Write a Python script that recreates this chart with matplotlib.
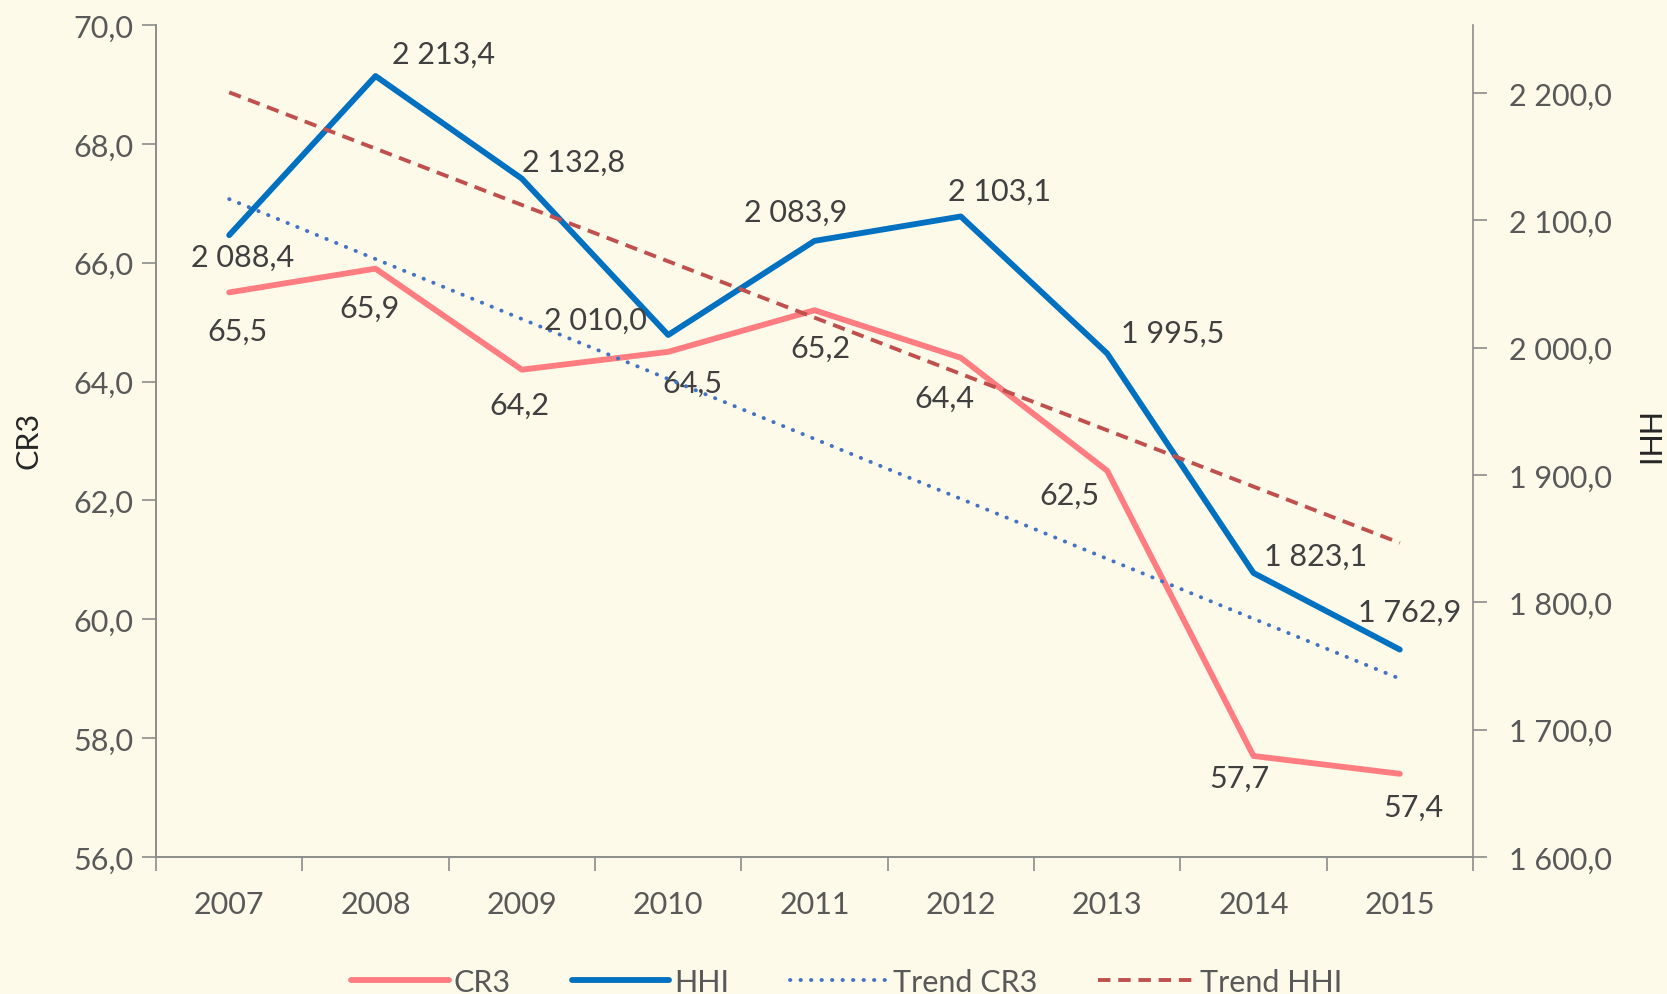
import matplotlib.pyplot as plt
from matplotlib.lines import Line2D

# data
years = ['2007', '2008', '2009', '2010', '2011', '2012', '2013', '2014', '2015']
cr3 = [65.5, 65.9, 64.2, 64.5, 65.2, 64.4, 62.5, 57.7, 57.4]
hhi = [2088.4, 2213.4, 2132.8, 2010.0, 2083.9, 2103.1, 1995.5, 1823.1, 1762.9]
# linear trend lines, start (2007) and end (2015) values
trend_cr3 = [67.07, 59.0]
trend_hhi = [2200.6, 1846.7]

# label offsets in pixels (dx, dy)
cr3_offsets = [(8, -38), (-6, -39), (-2, -35), (24, -31), (6, -38),
               (-16, -40), (-38, -24), (-14, -22), (14, -33)]
hhi_offsets = [(13, -22), (68, 22), (52, 17), (-73, 15), (-19, 29),
               (39, 26), (66, 21), (62, 17), (10, 38)]

BG = '#fefaea'
TXT = '#595959'
AX = '#8c8c8c'
FS = 22
DOT = (0, (0.1, 2.6))
DASH = (0, (3.2, 2.0))
plt.rcParams['font.family'] = ['Lato', 'DejaVu Sans']


def fmt(v):
    # Excel style: space as thousands separator, comma as decimal mark
    s = '{:,.1f}'.format(v)
    return s.replace(',', ' ').replace('.', ',')


def main():
    fig = plt.figure(figsize=(16.67, 9.95), dpi=100, facecolor=BG)
    ax = fig.add_axes([0.0936, 0.1377, 0.79, 0.8362])
    ax.set_facecolor(BG)
    ax2 = ax.twinx()

    x = list(range(len(years)))
    ends = [x[0], x[-1]]

    ax.plot(x, cr3, color='#ff7c80', lw=4.2, solid_capstyle='round', zorder=2)
    ax2.plot(x, hhi, color='#0070c0', lw=4.2, solid_capstyle='round', zorder=2)
    ax.plot(ends, trend_cr3, color='#4472c4', lw=2.8, ls=DOT,
            dash_capstyle='round', zorder=4)
    ax2.plot(ends, trend_hhi, color='#c0504d', lw=2.8, ls=DASH, zorder=4)

    for i, v in enumerate(cr3):
        ax.annotate(fmt(v), (x[i], v), xytext=cr3_offsets[i], textcoords='offset pixels',
                    ha='center', va='center', fontsize=FS, color='#404040', zorder=3)
    for i, v in enumerate(hhi):
        ax2.annotate(fmt(v), (x[i], v), xytext=hhi_offsets[i], textcoords='offset pixels',
                     ha='center', va='center', fontsize=FS, color='#404040', zorder=3)

    ax.set_xlim(-0.5, 8.5)
    ax.set_ylim(56, 70)
    ax2.set_ylim(1600, 2253.5)
    ax.set_yticks([56, 58, 60, 62, 64, 66, 68, 70])
    ax.set_yticklabels([fmt(v) for v in ax.get_yticks()])
    ax2.set_yticks([1600, 1700, 1800, 1900, 2000, 2100, 2200])
    ax2.set_yticklabels([fmt(v) for v in ax2.get_yticks()])

    ax.set_xticks(x)
    ax.set_xticklabels(years)
    ax.set_xticks([i - 0.5 for i in range(len(years) + 1)], minor=True)
    ax.tick_params(axis='x', which='major', length=0, pad=24, labelsize=FS, labelcolor=TXT)
    ax.tick_params(axis='x', which='minor', length=10, width=1.2, color=AX, direction='out')
    ax.tick_params(axis='y', length=10, width=1.2, color=AX, labelsize=FS, labelcolor=TXT, pad=6)
    ax2.tick_params(axis='y', length=10, width=1.2, color=AX, labelsize=FS, labelcolor=TXT, pad=16)

    for a in (ax, ax2):
        a.spines['top'].set_visible(False)
        for s in ('left', 'right', 'bottom'):
            a.spines[s].set_color(AX)
            a.spines[s].set_linewidth(1.2)
    ax.spines['right'].set_visible(False)

    fig.text(0.017, 0.557, 'CR3', rotation=90, ha='center', va='center',
             fontsize=FS, color='#262626')
    fig.text(0.987, 0.557, 'HHI', rotation=270, ha='center', va='center',
             fontsize=FS, color='#262626')

    handles = [
        Line2D([], [], color='#ff7c80', lw=4.2, solid_capstyle='round'),
        Line2D([], [], color='#0070c0', lw=4.2, solid_capstyle='round'),
        Line2D([], [], color='#4472c4', lw=2.8, ls=DOT, dash_capstyle='round'),
        Line2D([], [], color='#c0504d', lw=2.8, ls=DASH),
    ]
    fig.legend(handles, ['CR3', 'HHI', 'Trend CR3', 'Trend HHI'], loc='center',
               bbox_to_anchor=(0.508, 0.012), ncol=4, frameon=False, fontsize=FS,
               labelcolor=TXT, handlelength=3.2, handletextpad=0.15, columnspacing=2.0)

    fig.savefig('out.png', dpi=100, facecolor=BG)


if __name__ == '__main__':
    main()
